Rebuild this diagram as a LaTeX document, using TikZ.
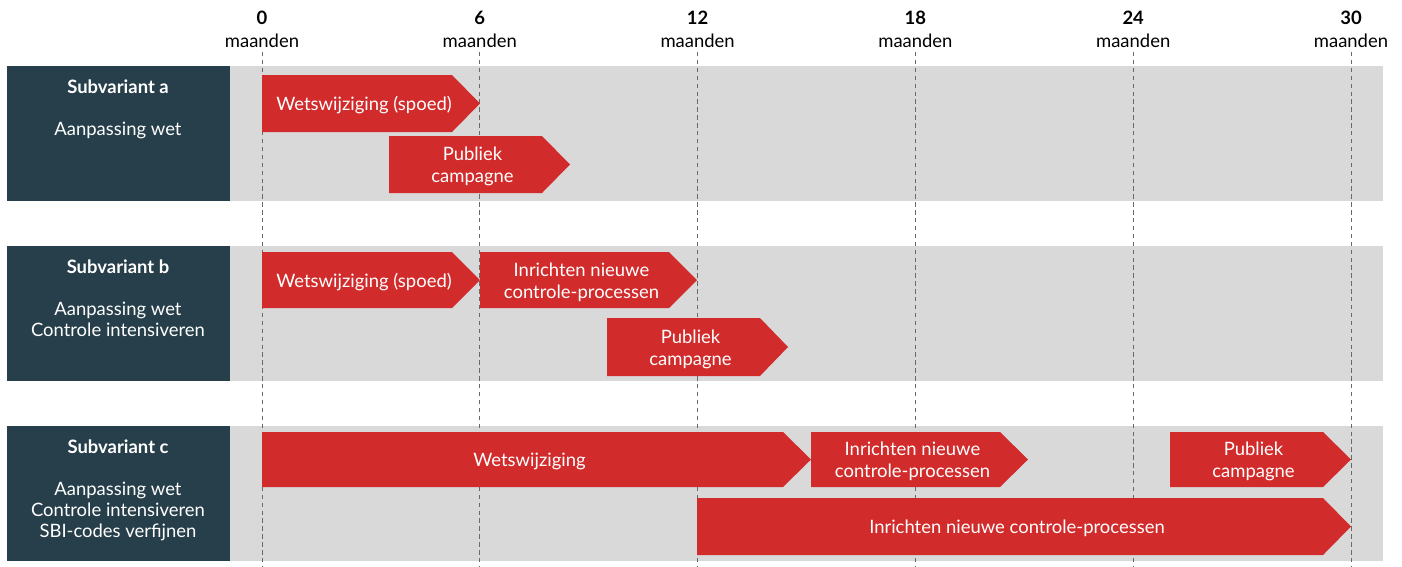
\documentclass[tikz,border=0pt]{standalone}
\usepackage{fontspec}
\setmainfont{Lato}
\definecolor{fasered}{RGB}{209,43,43}
\definecolor{rowdark}{RGB}{38,63,74}
\definecolor{rowgray}{RGB}{217,217,217}
\definecolor{gridgray}{RGB}{105,105,105}

\tikzset{
  band/.style={fill=rowgray},
  labelbox/.style={fill=rowdark},
  gridline/.style={gridgray, dash pattern=on 2.5pt off 2pt, line width=0.4pt},
  fasetext/.style={text=white, align=center, inner sep=0pt, font=\fontsize{10.5}{12.5}\selectfont},
  monthlabel/.style={align=center, inner sep=0pt, font=\fontsize{10.5}{13}\selectfont},
  rowtext/.style={text=white, align=center, inner sep=0pt, anchor=north, font=\fontsize{10.5}{12}\selectfont}
}

% one phase: name, left x, tip x, top y, bottom y, text
\newcommand{\fase}[6]{%
  \fill[fasered] (#2,#4) -- ({#3-28},#4) -- (#3,{(#4+#5)/2}) -- ({#3-28},#5) -- (#2,#5) -- cycle;
  \node[fasetext] (#1) at ({(#2+#3)/2-7},{(#4+#5)/2+2}) {#6};
}

\begin{document}
\begin{tikzpicture}[x=0.02cm, y=-0.02cm]
  \useasboundingbox (0,0) rectangle (1402,566);

  % rows
  \foreach \top/\sv/\lines in {66/a/{Aanpassing wet},
                               246/b/{Aanpassing wet\\Controle intensiveren},
                               426/c/{Aanpassing wet\\Controle intensiveren\\SBI-codes verfijnen}} {
    \fill[band] (230,\top) rectangle (1383,\top+135);
    \fill[labelbox] (7,\top) rectangle (230,\top+135);
    \node[rowtext] (label\sv) at (118,\top+13) {{\bfseries Subvariant \sv}\\[12pt]\lines};
  }

  % time axis
  \foreach \m [count=\i from 0] in {0,6,12,18,24,30} {
    \draw[gridline] (262+\i*217.8,52) -- (262+\i*217.8,566);
    \node[monthlabel] (month\m) at (262+\i*217.8,29) {{\bfseries\m}\\maanden};
  }

  % subvariant a
  \fase{wetA}{262}{480}{75}{132}{Wetswijziging (spoed)}
  \fase{campA}{389}{570}{136}{193}{Publiek\\campagne}

  % subvariant b
  \fase{wetB}{262}{480}{252}{308}{Wetswijziging (spoed)}
  \fase{inrB}{480}{697}{252}{308}{Inrichten nieuwe\\controle-processen}
  \fase{campB}{607}{788}{318}{376}{Publiek\\campagne}

  % subvariant c
  \fase{wetC}{262}{811}{432}{487}{Wetswijziging}
  \fase{inrC}{811}{1028}{432}{487}{Inrichten nieuwe\\controle-processen}
  \fase{campC}{1170}{1351}{432}{487}{Publiek\\campagne}
  \fase{inrClong}{697}{1351}{498}{555}{Inrichten nieuwe controle-processen}
\end{tikzpicture}
\end{document}
